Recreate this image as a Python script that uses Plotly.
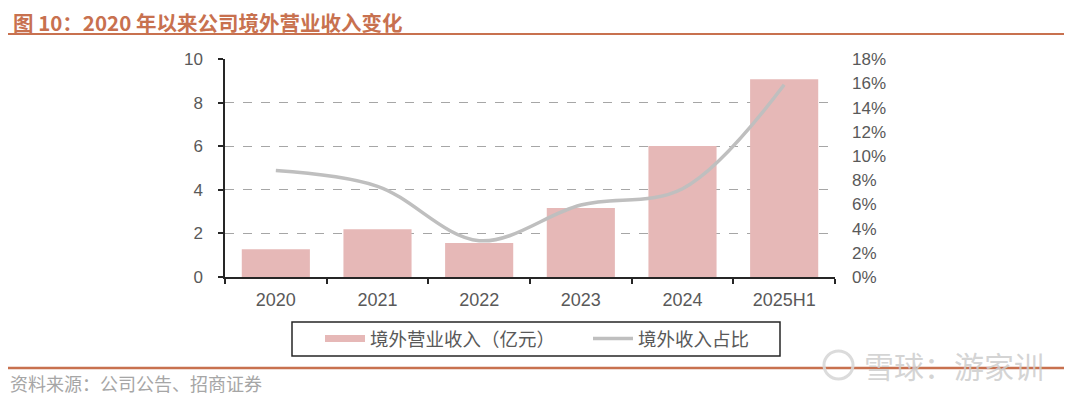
import plotly.graph_objects as go

W, H = 1080, 399
PAGE_OFFSET = 8  # default body margin of the written HTML page

categories = ["2020", "2021", "2022", "2023", "2024", "2025H1"]
revenue = [1.27, 2.19, 1.56, 3.17, 6.02, 9.08]          # 境外营业收入（亿元）
share_pct = [8.8, 7.5, 3.0, 5.95, 7.3, 15.9]            # 境外收入占比 (%)
left_ticks = [0, 2, 4, 6, 8, 10]
right_ticks = [0, 2, 4, 6, 8, 10, 12, 14, 16, 18]
right_labels = [f"{v}%" for v in right_ticks]

title_text = "图 10：2020 年以来公司境外营业收入变化"
source_text = "资料来源：公司公告、招商证券"
watermark_text = "雪球：游家训"
bar_name = "境外营业收入（亿元）"
line_name = "境外收入占比"

BAR_COLOR = "#E6B8B7"
LINE_COLOR = "#BFBFBF"
ACCENT = "#C8714F"
TICK_COLOR = "#595959"
CJK = "Noto Sans CJK SC"
LAT = "Liberation Sans, Arial, sans-serif"


def px(x):
    return (x - PAGE_OFFSET) / W


def py(y):
    return 1 - (y - PAGE_OFFSET) / H


fig = go.Figure()
fig.add_trace(go.Bar(
    x=categories, y=revenue, name=bar_name, marker_color=BAR_COLOR,
    marker_line_width=0, showlegend=False, legendgroup="bar", yaxis="y"))
fig.add_trace(go.Scatter(
    x=categories, y=share_pct, name=line_name, mode="lines",
    line=dict(color=LINE_COLOR, width=3.5, shape="spline", smoothing=1.0),
    showlegend=False, legendgroup="line", yaxis="y2"))
# legend entries (long flat swatches as in the reference)
fig.add_trace(go.Scatter(
    x=[None], y=[None], name=bar_name, mode="lines",
    line=dict(color=BAR_COLOR, width=7), legendgroup="bar", yaxis="y"))
fig.add_trace(go.Scatter(
    x=[None], y=[None], name=line_name, mode="lines",
    line=dict(color=LINE_COLOR, width=3.5), legendgroup="line", yaxis="y2"))

fig.update_layout(
    width=W, height=H,
    margin=dict(l=0, r=0, t=0, b=0, autoexpand=False),
    paper_bgcolor="white", plot_bgcolor="white",
    bargap=0.33,
    showlegend=True,
    legend=dict(
        orientation="h", x=px(320), y=py(339), xanchor="left", yanchor="middle",
        bgcolor="rgba(0,0,0,0)", borderwidth=0,
        font=dict(family=CJK, size=18.5, color=TICK_COLOR),
        itemwidth=40, entrywidth=213, entrywidthmode="pixels",
        itemclick="toggle",
    ),
    xaxis=dict(
        type="category", domain=[px(225), px(835)],
        showline=True, linecolor="#262626", linewidth=1.5,
        ticks="outside", ticklen=5, tickcolor="#262626", tickwidth=1.5,
        tickson="boundaries", showgrid=False,
        tickfont=dict(family=LAT, size=18, color=TICK_COLOR),
        ticklabelstandoff=6, automargin=False,
    ),
    yaxis=dict(
        domain=[py(277), py(59.3)], range=[0, 10], tickvals=left_ticks,
        showline=True, linecolor="#262626", linewidth=1.5,
        ticks="outside", ticklen=5, tickcolor="#262626", tickwidth=1.5,
        showgrid=True, gridcolor="#A6A6A6", gridwidth=0.8, griddash="dash",
        zeroline=False, automargin=False,
        tickfont=dict(family=LAT, size=17, color=TICK_COLOR),
        ticklabelstandoff=12,
    ),
    yaxis2=dict(
        overlaying="y", side="right", range=[0, 18], tickvals=right_ticks,
        ticktext=right_labels, showline=False, showgrid=False, zeroline=False,
        ticks="", automargin=False,
        tickfont=dict(family=LAT, size=17, color=TICK_COLOR),
        ticklabelstandoff=16,
    ),
    shapes=[
        dict(type="line", xref="paper", yref="paper", x0=px(8), x1=px(1064),
             y0=py(34), y1=py(34), line=dict(color=ACCENT, width=2)),
        dict(type="line", xref="paper", yref="paper", x0=px(8), x1=px(1064),
             y0=py(368), y1=py(368), line=dict(color=ACCENT, width=2.5)),
        dict(type="rect", xref="paper", yref="paper", x0=px(292), x1=px(780),
             y0=py(356), y1=py(322), line=dict(color="#262626", width=1.5)),
        dict(type="circle", xref="paper", yref="paper", x0=px(824), x1=px(853),
             y0=py(379), y1=py(351), line=dict(color="rgba(215,215,215,0.9)", width=3)),
    ],
    annotations=[
        dict(text=f"<b>{title_text}</b>", xref="paper", yref="paper",
             x=px(11), y=py(22), xanchor="left", yanchor="middle", showarrow=False,
             font=dict(family=CJK, size=20.5, color=ACCENT)),
        dict(text=source_text, xref="paper", yref="paper",
             x=px(8), y=py(383), xanchor="left", yanchor="middle", showarrow=False,
             font=dict(family=CJK, size=18, color="#A6A6A6")),
        dict(text=watermark_text, xref="paper", yref="paper",
             x=px(862), y=py(365), xanchor="left", yanchor="middle", showarrow=False,
             font=dict(family=CJK, size=30, color="rgba(205,205,205,0.85)")),
    ],
)

fig.write_html("out.html")
